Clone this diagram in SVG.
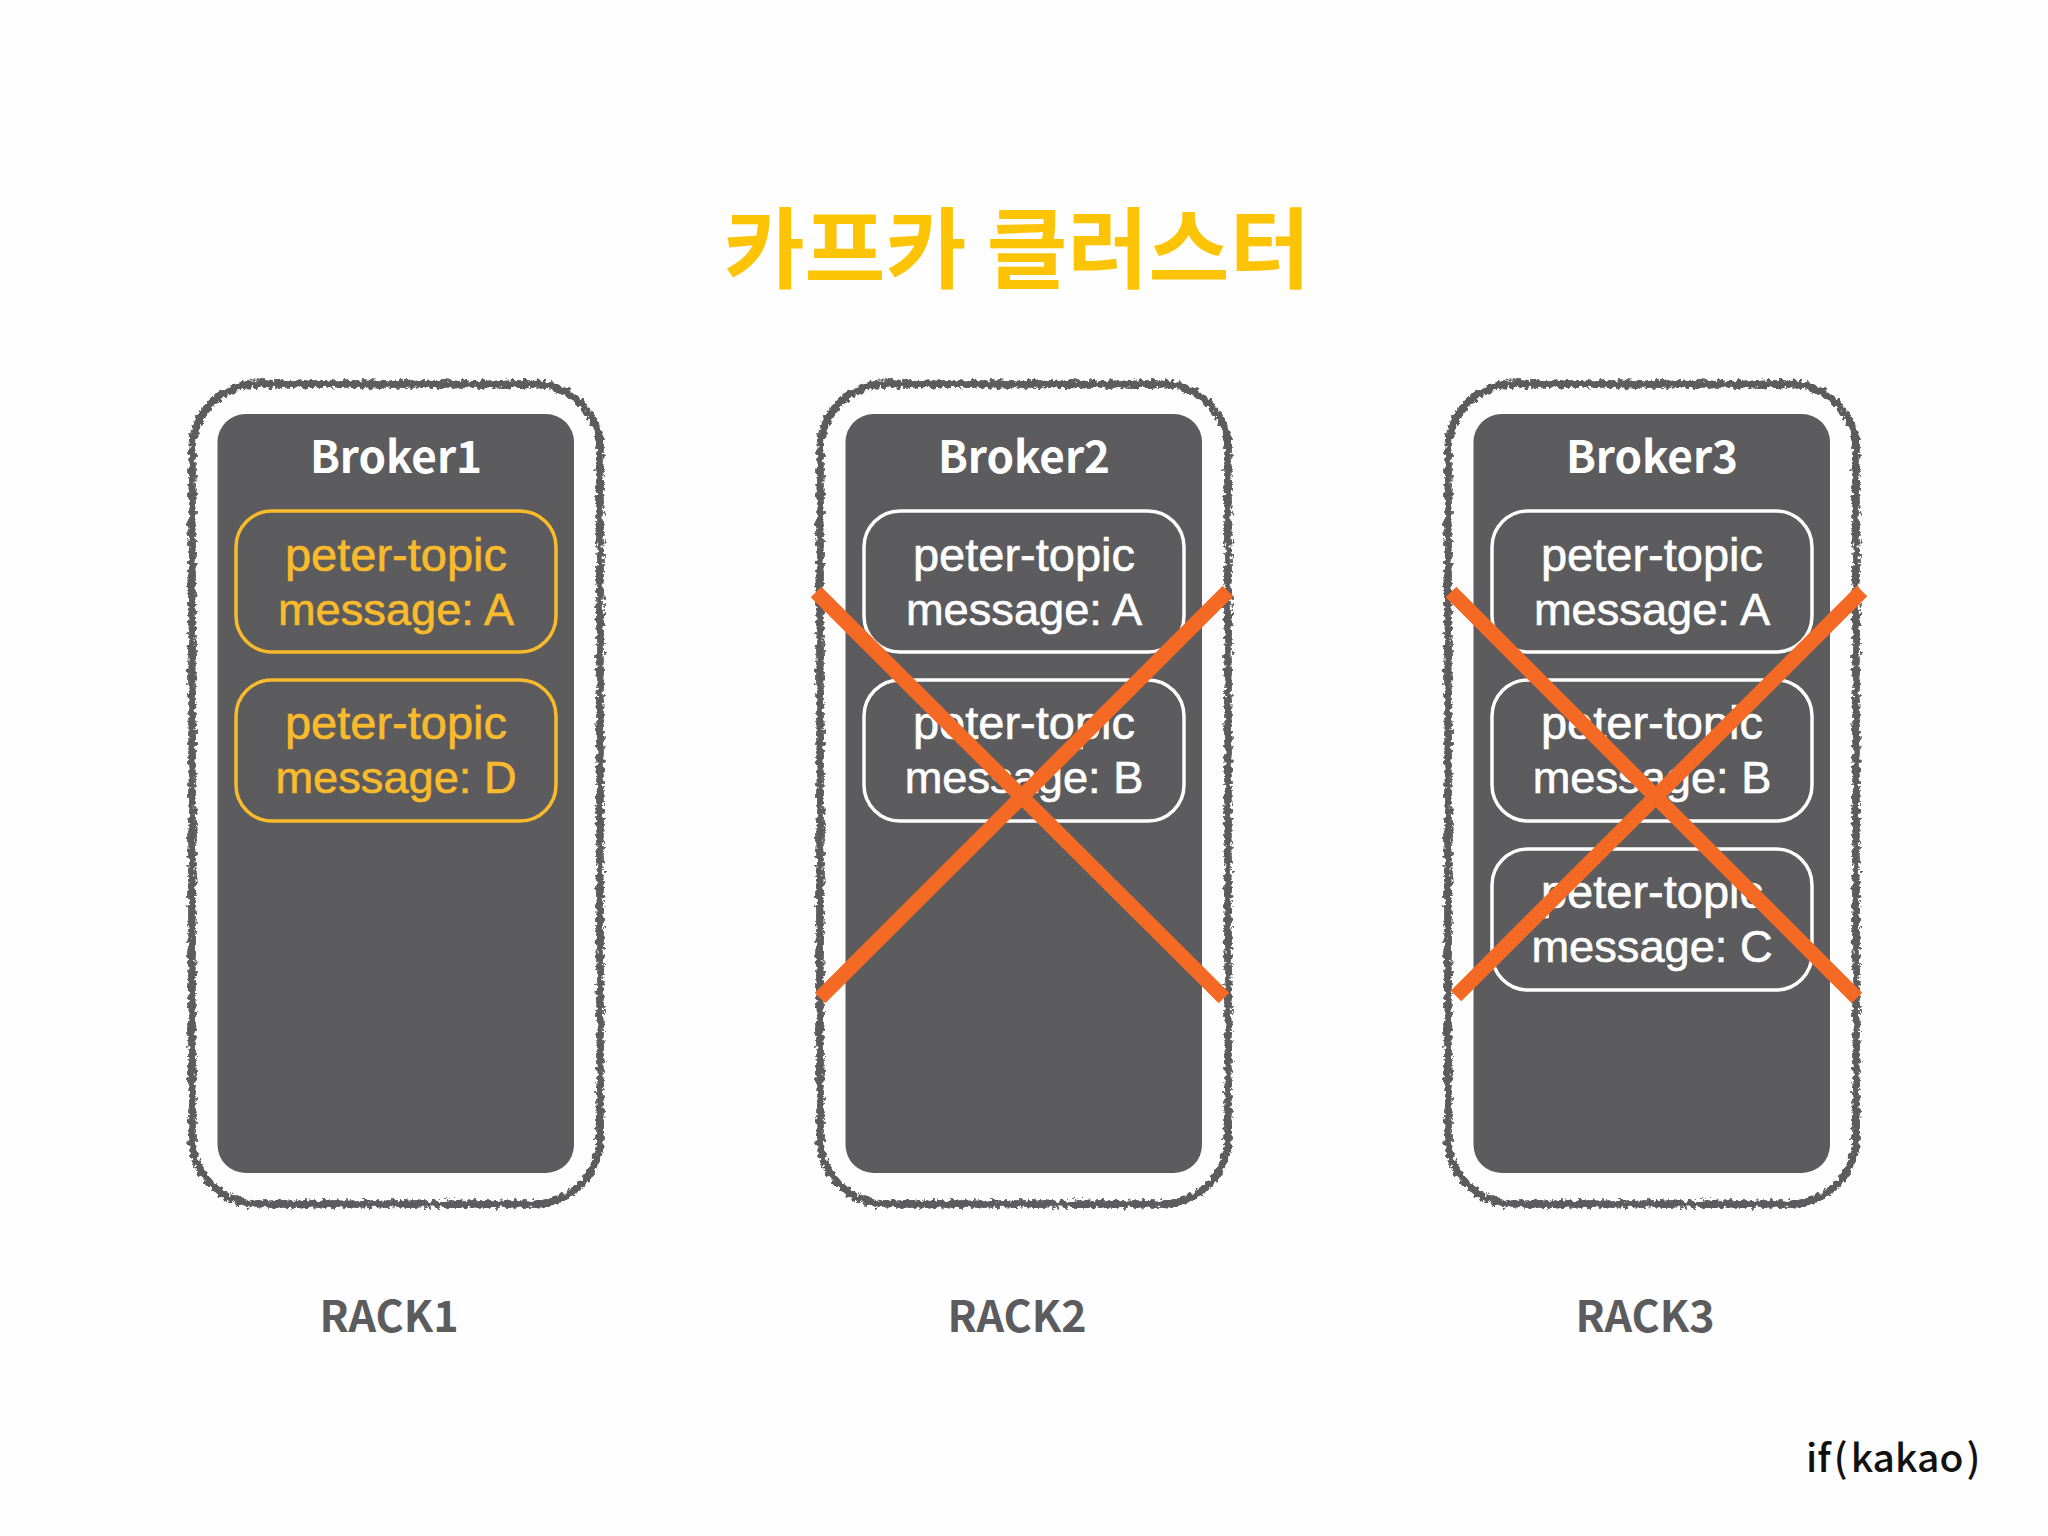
<svg xmlns="http://www.w3.org/2000/svg" width="2048" height="1536" viewBox="0 0 2048 1536">
<style>
.frame{fill:none;stroke:#5c5c5e;stroke-width:7}
.frame2{fill:none;stroke:#5c5c5e;stroke-width:3.500;stroke-dasharray:9 3 17 2 5 4}
.dark{fill:#5c5c5e}
.box{fill:none;stroke-width:3.500}
.y{stroke:#f9bb2c}
.w{stroke:#fff}
.head{font:700 44px "Noto Sans CJK KR","Noto Sans",sans-serif;fill:#fff;text-anchor:middle}
.msg{font:45.200px "Liberation Sans",Arial,sans-serif;text-anchor:middle;stroke-width:.6}
.top{font-size:47px}
.ty{fill:#f9bb2c;stroke:#f9bb2c}
.tw{fill:#fff;stroke:#fff}
.rack{font:700 43px "Noto Sans CJK KR","Noto Sans",sans-serif;fill:#5c5c5e;text-anchor:middle}
.cross{stroke:#f46a25;stroke-width:15;fill:none}
</style>
<defs>
<filter id="rough" x="-5%" y="-5%" width="110%" height="110%">
<feTurbulence type="fractalNoise" baseFrequency="0.22" numOctaves="3" seed="4"/>
<feDisplacementMap in="SourceGraphic" scale="8" xChannelSelector="R" yChannelSelector="G"/>
</filter>
<g id="rackframe" filter="url(#rough)">
<rect class="frame" x="192" y="384" width="408" height="820" rx="66"/>
<rect class="frame2" x="190" y="382" width="412" height="824" rx="68"/>
<rect class="frame2" x="194" y="386" width="404" height="816" rx="64"/>
</g>
</defs>
<rect width="2048" height="1536" fill="#fefefe"/>
<text id="title" x="1017" y="281" font-family="'Noto Sans CJK KR',sans-serif" font-weight="700" font-size="88" fill="#fdc405" text-anchor="middle">카프카 클러스터</text>
<g id="rack1">
<use href="#rackframe"/>
<rect class="dark" x="217.500" y="414" width="356.500" height="759" rx="28"/>
<text class="head" x="396" y="473">Broker1</text>
<rect class="box y" x="236" y="511" width="320" height="141" rx="36"/>
<text class="msg top ty" x="396" y="571">peter-topic</text>
<text class="msg ty" x="396" y="625">message: A</text>
<rect class="box y" x="236" y="680" width="320" height="141" rx="36"/>
<text class="msg top ty" x="396" y="739">peter-topic</text>
<text class="msg ty" x="396" y="793">message: D</text>
<text class="rack" x="389" y="1332">RACK1</text>
</g>
<g id="rack2" transform="translate(628 0)">
<use href="#rackframe"/>
<rect class="dark" x="217.500" y="414" width="356.500" height="759" rx="28"/>
<text class="head" x="396" y="473">Broker2</text>
<rect class="box w" x="236" y="511" width="320" height="141" rx="36"/>
<text class="msg top tw" x="396" y="571">peter-topic</text>
<text class="msg tw" x="396" y="625">message: A</text>
<rect class="box w" x="236" y="680" width="320" height="141" rx="36"/>
<text class="msg top tw" x="396" y="739">peter-topic</text>
<text class="msg tw" x="396" y="793">message: B</text>
<text class="rack" x="389" y="1332">RACK2</text>
</g>
<g id="rack3" transform="translate(1256 0)">
<use href="#rackframe"/>
<rect class="dark" x="217.500" y="414" width="356.500" height="759" rx="28"/>
<text class="head" x="396" y="473">Broker3</text>
<rect class="box w" x="236" y="511" width="320" height="141" rx="36"/>
<text class="msg top tw" x="396" y="571">peter-topic</text>
<text class="msg tw" x="396" y="625">message: A</text>
<rect class="box w" x="236" y="680" width="320" height="141" rx="36"/>
<text class="msg top tw" x="396" y="739">peter-topic</text>
<text class="msg tw" x="396" y="793">message: B</text>
<rect class="box w" x="236" y="849" width="320" height="141" rx="36"/>
<text class="msg top tw" x="396" y="908">peter-topic</text>
<text class="msg tw" x="396" y="962">message: C</text>
<text class="rack" x="389" y="1332">RACK3</text>
</g>
<g id="crosses">
<path class="cross" d="M816 592L1224 998M1228 591L820 998"/>
<path class="cross" d="M1451 592L1857 998M1862 591L1456 996"/>
</g>
<text id="brand" x="1806" y="1472" font-family="'Noto Sans CJK KR',sans-serif" font-weight="500" font-size="39" fill="#111">if<tspan dx="3">(</tspan><tspan dx="3">kakao</tspan><tspan dx="3">)</tspan></text>
</svg>
